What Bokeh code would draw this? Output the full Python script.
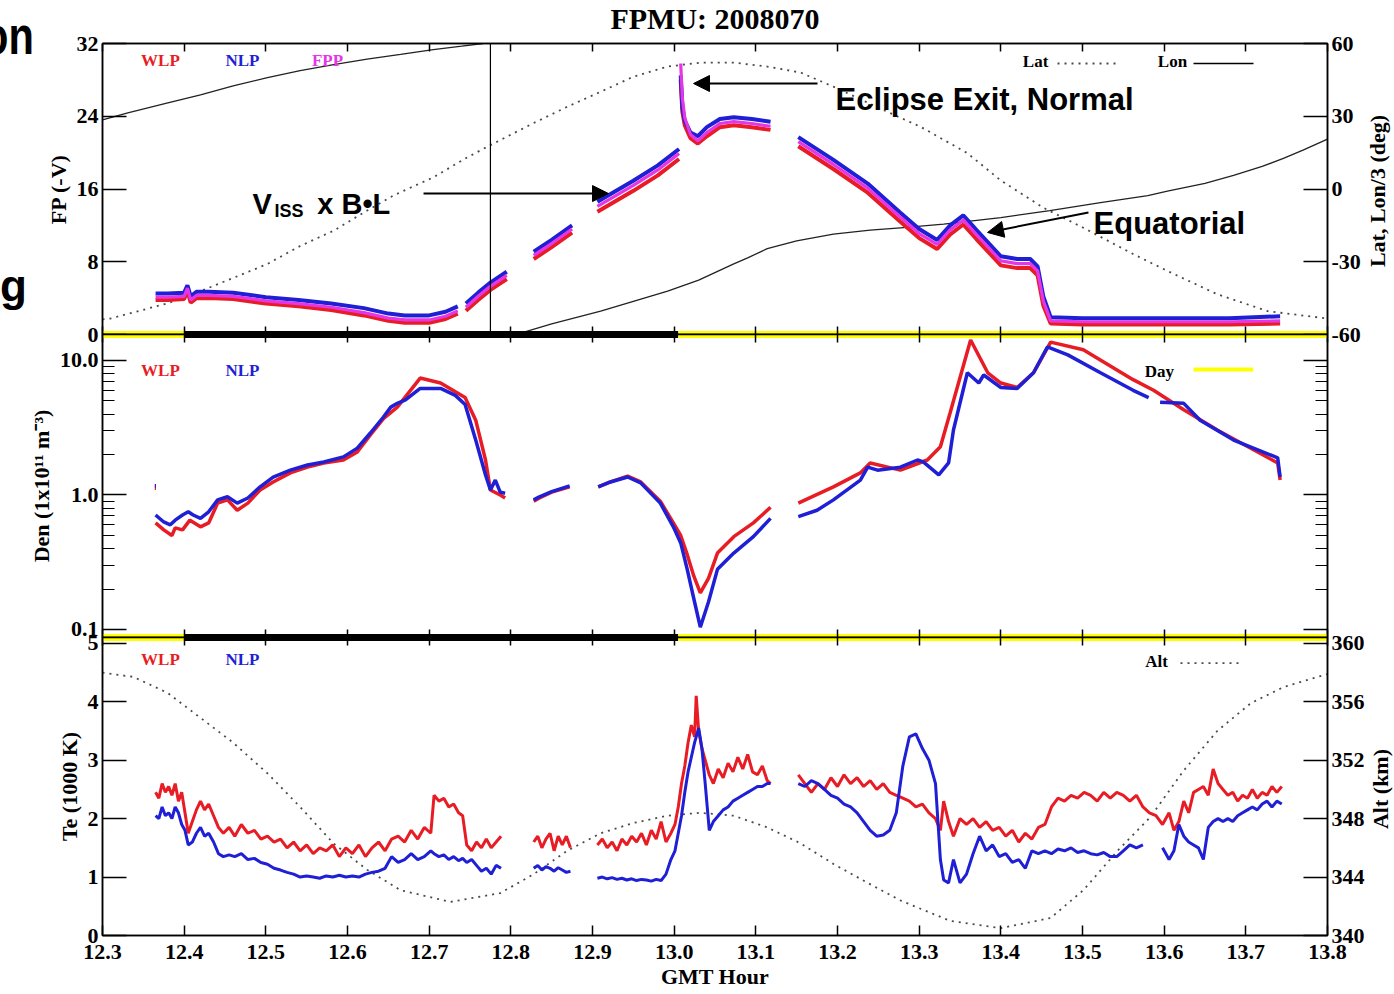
import math
from bokeh.plotting import figure
from bokeh.models import (Range1d, LinearAxis, LogAxis, FixedTicker, PrintfTickFormatter,
                          Label, Arrow, NormalHead, Span, CustomLabelingPolicy, Div)
from bokeh.layouts import column
from bokeh.embed import file_html
from bokeh.resources import INLINE

NAN = float("nan")

# ---------------------------------------------------------------- data
TITLE = "FPMU: 2008070"
X_START, X_END = 12.3, 13.8
XTICKS = [12.3, 12.4, 12.5, 12.6, 12.7, 12.8, 12.9, 13.0, 13.1, 13.2, 13.3, 13.4, 13.5, 13.6, 13.7, 13.8]
FP_TICKS = [0, 8, 16, 24, 32]
DEG_TICKS = [-60, -30, 0, 30, 60]
DEN_TICKS = [0.1, 1, 10]
DEN_MINOR = [0.2, 0.3, 0.4, 0.5, 0.6, 0.7, 0.8, 0.9, 2, 3, 4, 5, 6, 7, 8, 9]
TE_TICKS = [0, 1, 2, 3, 4, 5]
ALT_TICKS = [340, 344, 348, 352, 356, 360]

# day / eclipse indicator
DAY_START = [12.3, 12.4, 13.005]
DAY_END = [12.4, 13.005, 13.8]
DAY_FLAG = [1, 0, 1]
ORBIT_MARK = 12.775

# floating potential (-V), segments
FP_T = [
    [12.365, 12.38, 12.40, 12.404, 12.408, 12.415, 12.43, 12.46, 12.50, 12.54, 12.58, 12.62, 12.65, 12.67, 12.70, 12.72, 12.735],
    [12.745, 12.76, 12.775, 12.795],
    [12.828, 12.85, 12.875],
    [12.906, 12.95, 12.98, 13.006],
    [13.008, 13.010, 13.013, 13.020, 13.029, 13.04, 13.056, 13.073, 13.095, 13.118],
    [13.152, 13.195, 13.237, 13.277, 13.30, 13.322, 13.338, 13.354, 13.37, 13.40,
     13.42, 13.436, 13.445, 13.452, 13.461, 13.50, 13.56, 13.62, 13.68, 13.742],
]
FP_NLP = [
    [4.5, 4.5, 4.6, 5.4, 4.2, 4.7, 4.7, 4.6, 4.1, 3.8, 3.4, 2.9, 2.3, 2.1, 2.1, 2.5, 3.1],
    [3.4, 4.6, 5.7, 6.9],
    [9.1, 10.4, 12.0],
    [14.6, 16.9, 18.6, 20.4],
    [28.5, 25.0, 23.5, 22.2, 21.8, 22.8, 23.7, 23.9, 23.7, 23.4],
    [21.7, 19.2, 16.6, 13.4, 11.6, 10.4, 12.0, 13.1, 11.5, 8.6,
     8.3, 8.3, 7.5, 4.2, 1.9, 1.8, 1.8, 1.8, 1.8, 2.0],
]
FP_FPP = [
    [4.1, 4.1, 4.2, 5.1, 3.8, 4.3, 4.3, 4.2, 3.7, 3.4, 3.0, 2.4, 1.8, 1.6, 1.6, 2.0, 2.6],
    [3.0, 4.2, 5.3, 6.5],
    [8.7, 10.0, 11.6],
    [14.1, 16.4, 18.1, 19.9],
    [29.8, 26.0, 23.8, 22.0, 21.3, 22.2, 23.2, 23.4, 23.2, 22.9],
    [21.2, 18.7, 16.1, 12.9, 11.1, 9.9, 11.5, 12.6, 11.0, 8.1,
     7.8, 7.8, 7.0, 3.7, 1.5, 1.4, 1.4, 1.4, 1.4, 1.5],
]
FP_WLP = [
    [3.8, 3.8, 3.9, 4.8, 3.5, 4.0, 4.0, 3.9, 3.4, 3.1, 2.7, 2.1, 1.5, 1.3, 1.3, 1.7, 2.3],
    [2.6, 3.8, 4.9, 6.1],
    [8.3, 9.6, 11.2],
    [13.5, 15.8, 17.5, 19.3],
    [28.0, 24.5, 23.0, 21.6, 21.0, 21.8, 22.8, 23.0, 22.8, 22.5],
    [20.7, 18.2, 15.6, 12.4, 10.6, 9.4, 11.0, 12.1, 10.5, 7.6,
     7.3, 7.3, 6.5, 3.2, 1.2, 1.1, 1.1, 1.1, 1.1, 1.2],
]

# latitude (deg) and longitude/3 (deg)
LAT_T = [12.300, 12.310, 12.380, 12.420, 12.460, 12.502, 12.542, 12.583, 12.624, 12.656,
         12.705, 12.747, 12.775, 12.828, 12.869, 12.910, 12.950, 12.992, 13.032, 13.073,
         13.114, 13.155, 13.195, 13.256, 13.302, 13.359, 13.400, 13.452, 13.501, 13.562,
         13.604, 13.665, 13.727, 13.800]
LAT_V = [-53.8, -53.4, -47.1, -42.1, -36.7, -30.9, -23.5, -17.2, -8.9, -2.7,
         4.8, 13.1, 18.1, 27.2, 33.9, 40.1, 46.3, 50.5, 52.1, 52.1,
         50.5, 48.0, 42.2, 32.6, 25.6, 14.8, 3.5, -7.7, -16.0, -26.8,
         -33.8, -43.4, -50.4, -53.4]
LON_T = [[12.300, 12.331, 12.380, 12.420, 12.460, 12.502, 12.542, 12.583, 12.624, 12.665,
          12.705, 12.740, 12.766],
         [12.800, 12.812, 12.850, 12.910, 12.950, 12.992, 13.030, 13.073, 13.090, 13.114,
          13.150, 13.195, 13.240, 13.277, 13.330, 13.400, 13.460, 13.522, 13.580, 13.604,
          13.650, 13.685, 13.720, 13.746, 13.770, 13.800]]
LON_V = [[28.5, 31.4, 35.5, 38.8, 42.5, 45.9, 48.8, 51.3, 53.6, 55.5,
          57.5, 58.9, 60.0],
         [-60.0, -59.4, -55.6, -50.4, -46.3, -42.1, -37.6, -30.9, -28.4, -24.6,
          -21.4, -18.6, -17.0, -16.0, -14.5, -11.8, -8.9, -5.6, -2.7, -0.9,
          2.3, 5.6, 9.3, 12.6, 16.0, 20.6]]

# density (1e11 m^-3), segments
DEN_NLP_T = [
    [12.3640, 12.3655],
    [12.365, 12.375, 12.383, 12.389, 12.398, 12.405, 12.411, 12.420, 12.430, 12.441,
     12.453, 12.465, 12.478, 12.493, 12.509, 12.530, 12.551, 12.571, 12.595, 12.612,
     12.628, 12.644, 12.653, 12.661, 12.671, 12.689, 12.714, 12.732, 12.744, 12.757,
     12.769, 12.775, 12.781, 12.787, 12.793],
    [12.828, 12.835, 12.850, 12.872],
    [12.907, 12.922, 12.943, 12.959, 12.983, 12.999, 13.008, 13.016, 13.024, 13.032,
     13.042, 13.053, 13.073, 13.097, 13.118],
    [13.152, 13.175, 13.195, 13.228, 13.237, 13.249, 13.277, 13.298, 13.305, 13.324,
     13.336, 13.342, 13.359, 13.373, 13.379, 13.400, 13.420, 13.440, 13.457, 13.482,
     13.522, 13.562, 13.581],
    [13.595, 13.624, 13.644, 13.685, 13.739, 13.742],
]
DEN_NLP_V = [
    [1.17, 1.17],
    [0.71, 0.63, 0.60, 0.65, 0.71, 0.75, 0.71, 0.67, 0.75, 0.92,
     0.97, 0.87, 0.95, 1.15, 1.36, 1.53, 1.67, 1.76, 1.92, 2.23,
     2.89, 3.8, 4.5, 4.8, 5.1, 6.2, 6.2, 5.5, 4.7, 2.56,
     1.41, 1.09, 1.29, 1.05, 1.03],
    [0.92, 0.97, 1.06, 1.17],
    [1.15, 1.25, 1.36, 1.23, 0.87, 0.58, 0.44, 0.28, 0.17, 0.104,
     0.16, 0.28, 0.37, 0.49, 0.67],
    [0.69, 0.77, 0.92, 1.29, 1.61, 1.53, 1.61, 1.82, 1.76, 1.41,
     1.73, 3.04, 8.1, 6.8, 7.8, 6.3, 6.2, 8.1, 12.6, 11.0,
     8.1, 6.0, 5.3],
    [4.9, 4.8, 3.6, 2.56, 1.89, 1.36],
]
DEN_WLP_T = [
    [12.3640, 12.3655],
    [12.365, 12.375, 12.385, 12.389, 12.398, 12.407, 12.420, 12.430, 12.441, 12.453,
     12.465, 12.478, 12.493, 12.509, 12.530, 12.551, 12.571, 12.595, 12.612, 12.628,
     12.644, 12.661, 12.689, 12.714, 12.744, 12.757, 12.769, 12.775, 12.787, 12.793],
    [12.828, 12.835, 12.850, 12.872],
    [12.907, 12.922, 12.943, 12.959, 12.983, 12.999, 13.008, 13.016, 13.024, 13.032,
     13.042, 13.053, 13.073, 13.097, 13.118],
    [13.152, 13.195, 13.228, 13.240, 13.277, 13.310, 13.326, 13.338, 13.363, 13.384,
     13.400, 13.420, 13.440, 13.461, 13.501, 13.562, 13.587, 13.624, 13.665, 13.739,
     13.742],
]
DEN_WLP_V = [
    [1.12, 1.12],
    [0.62, 0.55, 0.50, 0.57, 0.55, 0.65, 0.58, 0.62, 0.87, 0.92,
     0.77, 0.87, 1.09, 1.25, 1.46, 1.61, 1.73, 1.82, 2.09, 2.8,
     3.7, 4.5, 7.4, 6.8, 5.3, 3.6, 1.82, 1.09, 1.0, 0.95],
    [0.90, 0.95, 1.05, 1.15],
    [1.15, 1.25, 1.38, 1.25, 0.90, 0.62, 0.50, 0.36, 0.25, 0.187,
     0.24, 0.37, 0.49, 0.62, 0.81],
    [0.87, 1.15, 1.46, 1.73, 1.53, 1.82, 2.28, 4.1, 14.2, 8.1,
     6.8, 6.3, 8.1, 13.7, 12.0, 7.2, 6.0, 4.3, 3.04, 1.73,
     1.29],
]

# electron temperature (1000 K), segments share time stamps (NaN = no data)
TE_T = [
    [12.365, 12.369, 12.373, 12.377, 12.381, 12.385, 12.389, 12.393, 12.397, 12.401,
     12.405, 12.410, 12.415, 12.420, 12.425, 12.430, 12.436, 12.442, 12.448, 12.455,
     12.462, 12.470, 12.478, 12.486, 12.494, 12.502, 12.510, 12.518, 12.526, 12.534,
     12.542, 12.550, 12.558, 12.566, 12.574, 12.582, 12.590, 12.598, 12.606, 12.614,
     12.622, 12.630, 12.638, 12.646, 12.654, 12.662, 12.670, 12.678, 12.686, 12.694,
     12.702, 12.706, 12.712, 12.718, 12.724, 12.730, 12.736, 12.741, 12.746, 12.752,
     12.758, 12.764, 12.770, 12.776, 12.782, 12.788],
    [12.828, 12.833, 12.838, 12.843, 12.848, 12.853, 12.858, 12.863, 12.868, 12.873],
    [12.906, 12.912, 12.918, 12.924, 12.930, 12.936, 12.942, 12.948, 12.954, 12.960,
     12.966, 12.972, 12.978, 12.984, 12.990, 12.996, 13.001, 13.005, 13.009, 13.013,
     13.017, 13.021, 13.025, 13.027, 13.030, 13.034, 13.038, 13.043, 13.048, 13.054,
     13.060, 13.066, 13.072, 13.078, 13.084, 13.090, 13.096, 13.102, 13.108, 13.114,
     13.118],
    [13.152, 13.160, 13.168, 13.176, 13.184, 13.192, 13.200, 13.208, 13.216, 13.224,
     13.232, 13.240, 13.248, 13.256, 13.264, 13.272, 13.280, 13.288, 13.296, 13.304,
     13.312, 13.320, 13.326, 13.330, 13.336, 13.342, 13.350, 13.358, 13.366, 13.374,
     13.382, 13.390, 13.398, 13.406, 13.414, 13.422, 13.430, 13.438, 13.446, 13.454,
     13.462, 13.470, 13.478, 13.486, 13.494, 13.502, 13.510, 13.518, 13.526, 13.534,
     13.542, 13.550, 13.558, 13.566, 13.574, 13.582, 13.590, 13.598, 13.606, 13.612,
     13.618, 13.624, 13.630, 13.636, 13.642, 13.648, 13.654, 13.660, 13.666, 13.672,
     13.678, 13.684, 13.690, 13.696, 13.702, 13.708, 13.714, 13.720, 13.726, 13.732,
     13.738, 13.744],
]
TE_WLP = [
    [2.45, 2.35, 2.60, 2.45, 2.55, 2.40, 2.60, 2.30, 2.45, 2.10,
     1.75, 1.95, 2.15, 2.30, 2.15, 2.25, 2.05, 1.85, 1.75, 1.85,
     1.70, 1.90, 1.75, 1.80, 1.65, 1.70, 1.60, 1.65, 1.50, 1.60,
     1.45, 1.55, 1.40, 1.50, 1.45, 1.55, 1.35, 1.50, 1.40, 1.55,
     1.35, 1.50, 1.60, 1.45, 1.65, 1.70, 1.60, 1.80, 1.65, 1.85,
     1.75, 2.40, 2.30, 2.35, 2.20, 2.25, 2.10, 2.05, 1.55, 1.45,
     1.60, 1.50, 1.65, 1.50, 1.60, 1.70],
    [1.60, 1.70, 1.50, 1.65, 1.75, 1.45, 1.70, 1.55, 1.70, 1.50],
    [1.55, 1.65, 1.50, 1.60, 1.45, 1.65, 1.55, 1.70, 1.60, 1.75,
     1.55, 1.80, 1.65, 1.95, 1.60, 1.75, 1.90, 2.20, 2.60, 2.90,
     3.30, 3.60, 3.40, 4.10, 3.50, 3.20, 3.00, 2.75, 2.60, 2.85,
     2.70, 2.95, 2.80, 3.05, 2.85, 3.10, 2.80, 2.75, 2.90, 2.65,
     2.60],
    [2.75, 2.60, 2.45, 2.60, 2.50, 2.70, 2.55, 2.75, 2.60, 2.70,
     2.55, 2.65, 2.50, 2.60, 2.45, 2.40, 2.35, 2.30, 2.20, 2.25,
     2.10, 2.00, 1.80, 2.30, 1.95, 1.70, 2.00, 1.90, 2.00, 1.85,
     1.95, 1.80, 1.85, 1.70, 1.80, 1.60, 1.75, 1.65, 1.85, 1.90,
     2.20, 2.35, 2.30, 2.40, 2.35, 2.45, 2.40, 2.30, 2.45, 2.35,
     2.45, 2.40, 2.30, 2.40, 2.20, 2.10, 2.05, 1.90, 2.10, 1.80,
     1.95, 2.30, 2.10, 2.45, 2.50, 2.55, 2.40, 2.85, 2.60, 2.50,
     2.40, 2.45, 2.30, 2.40, 2.35, 2.50, 2.35, 2.45, 2.40, 2.55,
     2.45, 2.55],
]
TE_NLP = [
    [2.05, 2.00, 2.20, 2.05, 2.10, 2.00, 2.20, 2.10, 1.90, 1.80,
     1.55, 1.60, 1.75, 1.85, 1.70, 1.75, 1.60, 1.40, 1.35, 1.38,
     1.35, 1.40, 1.30, 1.32, 1.25, 1.22, 1.15, 1.12, 1.08, 1.05,
     1.00, 1.02, 1.00, 0.98, 1.02, 1.00, 1.03, 1.00, 1.02, 1.00,
     1.05, 1.08, 1.10, 1.15, 1.35, 1.25, 1.30, 1.40, 1.30, 1.35,
     1.45, 1.40, 1.35, 1.38, 1.30, 1.35, 1.28, 1.32, 1.25, 1.30,
     1.20, 1.10, 1.15, 1.05, 1.20, 1.15],
    [1.15, 1.20, 1.12, 1.18, 1.15, 1.10, 1.16, 1.12, 1.08, 1.10],
    [0.98, 1.00, 0.97, 0.99, 0.96, 0.98, 0.95, 0.97, 0.94, 0.96,
     0.95, 0.93, 0.96, 0.94, 1.05, 1.30, 1.45, 1.75, 2.05, 2.45,
     2.80, 3.05, 3.30, 3.40, 3.55, 3.20, 2.60, 1.80, 1.95, 2.05,
     2.15, 2.20, 2.30, 2.35, 2.40, 2.45, 2.50, 2.55, 2.55, 2.60,
     2.60],
    [2.60, 2.55, 2.65, 2.60, 2.50, 2.40, 2.35, 2.25, 2.20, 2.10,
     1.95, 1.80, 1.70, 1.72, 1.80, 2.10, 2.90, 3.40, 3.45, 3.20,
     3.00, 2.60, 1.30, 0.95, 0.90, 1.30, 0.90, 1.05, 1.40, 1.70,
     1.45, 1.55, 1.35, 1.40, 1.25, 1.30, 1.15, 1.45, 1.40, 1.45,
     1.40, 1.48, 1.45, 1.50, 1.42, 1.45, 1.40, 1.38, 1.42, 1.35,
     1.35, 1.45, 1.55, 1.50, 1.55, NAN, NAN, 1.50, 1.30, 1.45,
     1.90, 1.70, 1.60, 1.55, 1.50, 1.30, 1.85, 1.95, 2.00, 1.95,
     2.00, 1.95, 2.05, 2.10, 2.15, 2.20, 2.15, 2.25, 2.30, 2.20,
     2.30, 2.25],
]

# altitude (km)
ALT_T = [12.300, 12.338, 12.380, 12.420, 12.460, 12.502, 12.542, 12.583, 12.624, 12.665,
         12.726, 12.787, 12.828, 12.869, 12.910, 12.950, 12.992, 13.032, 13.073, 13.114,
         13.155, 13.195, 13.237, 13.277, 13.338, 13.400, 13.461, 13.501, 13.543, 13.583,
         13.624, 13.665, 13.706, 13.746, 13.800]
ALT_V = [358.0, 357.7, 356.6, 354.9, 353.2, 351.1, 348.8, 346.3, 344.5, 343.1,
         342.3, 342.9, 344.2, 345.8, 347.0, 347.7, 348.2, 348.4, 348.2, 347.4,
         346.3, 344.9, 343.6, 342.4, 341.0, 340.5, 341.2, 343.1, 345.8, 348.1,
         351.3, 354.0, 355.9, 357.0, 357.9]

# ---------------------------------------------------------------- style
SERIF = "Liberation Serif"
SANS = "Liberation Sans"
RED = "#e81c24"
BLUE = "#1f1fd6"
MAG = "#e436e4"
YEL = "#ffff00"
DOT = "#4a4a4a"
W = 1394
LEFT, RIGHT = 102, 67

x_range = Range1d(X_START, X_END)


def split_nan(ts, vs):
    """Break segments wherever a value is missing."""
    out_t, out_v = [], []
    for t_seg, v_seg in zip(ts, vs):
        ct, cv = [], []
        for t, v in zip(t_seg, v_seg):
            if v != v:
                if ct:
                    out_t.append(ct)
                    out_v.append(cv)
                ct, cv = [], []
            else:
                ct.append(t)
                cv.append(v)
        if ct:
            out_t.append(ct)
            out_v.append(cv)
    return out_t, out_v


def make_fig(height, y_range, y_type, top, bottom):
    p = figure(width=W, height=height, x_range=x_range, y_range=y_range, y_axis_type=y_type,
               output_backend="svg", toolbar_location=None, tools="",
               x_axis_location=None, y_axis_location=None,
               min_border_left=LEFT, min_border_right=RIGHT,
               min_border_top=top, min_border_bottom=bottom)
    p.outline_line_color = "black"
    p.outline_line_width = 1.5
    p.background_fill_color = "white"
    p.border_fill_color = None
    for g in p.grid:
        g.visible = False
    return p


NO_LABELS = CustomLabelingPolicy(code="return []")


def style_axis(ax, tick_in, minor_in=0, labels=True, label_size="22px", standoff=4):
    ax.axis_line_color = "black"
    ax.axis_line_width = 1.5
    ax.major_tick_in = tick_in
    ax.major_tick_out = 0
    ax.minor_tick_in = minor_in
    ax.minor_tick_out = 0
    ax.major_tick_line_width = 1.5
    ax.minor_tick_line_width = 1.2
    ax.major_tick_line_color = "black"
    ax.minor_tick_line_color = "black"
    ax.major_label_text_font = SERIF
    ax.major_label_text_font_style = "bold"
    ax.major_label_text_color = "black"
    if labels:
        ax.major_label_text_font_size = label_size
        ax.major_label_standoff = standoff
    else:
        ax.major_label_text_font_size = "1px"
        ax.major_label_standoff = 0
        ax.major_label_policy = NO_LABELS
    ax.axis_label_text_font = SERIF
    ax.axis_label_text_font_style = "bold"
    ax.axis_label_text_font_size = "22px"
    ax.axis_label_text_color = "black"
    ax.axis_label_standoff = 3
    return ax


def x_edges(p, bottom_labels=False):
    top = LinearAxis(ticker=FixedTicker(ticks=XTICKS))
    style_axis(top, 8, labels=False)
    p.add_layout(top, "above")
    bot = LinearAxis(ticker=FixedTicker(ticks=XTICKS), formatter=PrintfTickFormatter(format="%.1f"))
    if bottom_labels:
        style_axis(bot, 10, labels=True, standoff=9)
        bot.axis_label = "GMT Hour"
        bot.axis_label_standoff = 2
    else:
        style_axis(bot, 8, labels=False)
    p.add_layout(bot, "below")


def day_bar(p, y):
    colors = [YEL if f else "black" for f in DAY_FLAG]
    p.segment(x0=DAY_START, y0=[y] * len(DAY_START), x1=DAY_END, y1=[y] * len(DAY_START),
              line_color=colors, line_width=7)


def txt(p, x, y, text, size, color="black", font=SERIF, align="center", baseline="middle"):
    p.add_layout(Label(x=x, y=y, text=text, text_font=font, text_font_style="bold",
                       text_font_size=f"{size}px", text_color=color, text_align=align,
                       text_baseline=baseline))


def sample(p, x0, x1, y, color, width, dash="solid"):
    p.add_layout(Arrow(start=None, end=None, x_start=x0, y_start=y, x_end=x1, y_end=y,
                       line_color=color, line_width=width, line_dash=dash))


def pointer(p, x0, y0, x1, y1):
    p.add_layout(Arrow(end=NormalHead(size=16, fill_color="black", line_color="black"),
                       x_start=x0, y_start=y0, x_end=x1, y_end=y1,
                       line_color="black", line_width=2))


# ---------------------------------------------------------------- panel 1 : FP
FP_RANGE = Range1d(0, 32)
p1 = make_fig(346, FP_RANGE, "linear", 43, 12)
p1.extra_y_ranges = {"deg": Range1d(-60, 60)}
ax = LinearAxis(ticker=FixedTicker(ticks=FP_TICKS), axis_label="FP (-V)")
style_axis(ax, 24)
p1.add_layout(ax, "left")
ax = LinearAxis(y_range_name="deg", ticker=FixedTicker(ticks=DEG_TICKS),
                formatter=PrintfTickFormatter(format="%d"))
style_axis(ax, 24)
p1.add_layout(ax, "right")
x_edges(p1)

p1.line(LAT_T, LAT_V, y_range_name="deg", line_color=DOT, line_width=1.8, line_dash="2 5")
p1.multi_line(LON_T, LON_V, y_range_name="deg", line_color="#222222", line_width=1.3)
p1.add_layout(Span(location=ORBIT_MARK, dimension="height", line_color="black", line_width=1.2))
p1.multi_line(FP_T, FP_WLP, line_color=RED, line_width=4)
p1.multi_line(FP_T, FP_NLP, line_color=BLUE, line_width=4)
p1.multi_line(FP_T, FP_FPP, line_color=MAG, line_width=3.2)
day_bar(p1, FP_RANGE.start)

txt(p1, 12.371, 30.1, "WLP", 17, RED)
txt(p1, 12.4714, 30.1, "NLP", 17, BLUE)
txt(p1, 12.5755, 30.1, "FPP", 17, MAG)
txt(p1, 13.4425, 30.0, "Lat", 17)
sample(p1, 13.4694, 13.5465, 29.8, DOT, 1.8, "2 5")
txt(p1, 13.6102, 30.0, "Lon", 17)
sample(p1, 13.6359, 13.7094, 29.8, "black", 1.5)

txt(p1, 13.1976, 25.84, "Eclipse Exit, Normal", 31, font=SANS, align="left", baseline="alphabetic")
pointer(p1, 13.1755, 27.6, 13.0237, 27.6)
txt(p1, 12.4837, 14.40, "V", 29, font=SANS, align="left", baseline="alphabetic")
txt(p1, 12.5106, 13.53, "ISS", 18, font=SANS, align="left", baseline="alphabetic")
txt(p1, 12.5630, 14.40, "x B\u2022L", 29, font=SANS, align="left", baseline="alphabetic")
pointer(p1, 12.6931, 15.5, 12.9196, 15.5)
txt(p1, 13.5135, 12.21, "Equatorial", 31, font=SANS, align="left", baseline="alphabetic")
pointer(p1, 13.5073, 13.42, 13.3837, 11.22)

# ---------------------------------------------------------------- panel 2 : density
DEN_RANGE = Range1d(0.0872, 15.6)
p2 = make_fig(327, DEN_RANGE, "log", 12, 12)
p2.margin = (-24, 0, 0, 0)
ax = LogAxis(ticker=FixedTicker(ticks=DEN_TICKS, minor_ticks=DEN_MINOR),
             formatter=PrintfTickFormatter(format="%.1f"),
             axis_label="Den (1x10\u00b9\u00b9 m\u207b\u00b3)")
style_axis(ax, 24, minor_in=12)
p2.add_layout(ax, "left")
ax = LogAxis(ticker=FixedTicker(ticks=DEN_TICKS, minor_ticks=DEN_MINOR))
style_axis(ax, 24, minor_in=12, labels=False)
p2.add_layout(ax, "right")
x_edges(p2)

p2.multi_line(DEN_WLP_T, DEN_WLP_V, line_color=RED, line_width=3.5)
p2.multi_line(DEN_NLP_T, DEN_NLP_V, line_color=BLUE, line_width=3.5)
day_bar(p2, DEN_RANGE.start)
day_bar(p2, DEN_RANGE.end)

txt(p2, 12.371, 8.43, "WLP", 17, RED)
txt(p2, 12.4714, 8.43, "NLP", 17, BLUE)
txt(p2, 13.594, 8.3, "Day", 17)
sample(p2, 13.636, 13.709, 8.57, YEL, 4)

# ---------------------------------------------------------------- panel 3 : Te
TE_RANGE = Range1d(0, 5.1)
p3 = make_fig(369, TE_RANGE, "linear", 12, 59)
p3.margin = (-24, 0, 0, 0)
p3.extra_y_ranges = {"alt": Range1d(340, 360.4)}
ax = LinearAxis(ticker=FixedTicker(ticks=TE_TICKS), axis_label="Te (1000 K)")
style_axis(ax, 24)
p3.add_layout(ax, "left")
ax = LinearAxis(y_range_name="alt", ticker=FixedTicker(ticks=ALT_TICKS))
style_axis(ax, 24)
p3.add_layout(ax, "right")
x_edges(p3, bottom_labels=True)

te_w_t, te_w_v = split_nan(TE_T, TE_WLP)
te_n_t, te_n_v = split_nan(TE_T, TE_NLP)
p3.line(ALT_T, ALT_V, y_range_name="alt", line_color=DOT, line_width=1.8, line_dash="2 5")
p3.multi_line(te_w_t, te_w_v, line_color=RED, line_width=3)
p3.multi_line(te_n_t, te_n_v, line_color=BLUE, line_width=3)
day_bar(p3, TE_RANGE.end)

txt(p3, 12.371, 4.73, "WLP", 17, RED)
txt(p3, 12.4714, 4.73, "NLP", 17, BLUE)
txt(p3, 13.5906, 4.69, "Alt", 17)
sample(p3, 13.620, 13.693, 4.66, DOT, 1.8, "2 5")

# ---------------------------------------------------------------- texts outside the frames
RIGHT_LABELS = [("Lat, Lon/3 (deg)", 1378, 191), ("Alt (km)", 1381, 789)]
spans = [
    # title
    f'<span style="position:absolute;left:715px;top:4px;transform:translateX(-50%);white-space:nowrap;'
    f"font-family:'{SERIF}';font-weight:bold;font-size:30px;line-height:30px;color:#000;\">{TITLE}</span>",
    # fragments of slide text cut by the left edge
    f'<span style="position:absolute;left:-17px;top:8px;transform:scaleX(0.77);transform-origin:0 0;'
    f"white-space:nowrap;font-family:'{SANS}';font-weight:bold;font-size:54px;line-height:54px;"
    f'color:#000;">on</span>',
    f'<span style="position:absolute;left:0px;top:264px;white-space:nowrap;'
    f"font-family:'{SANS}';font-weight:bold;font-size:44px;line-height:44px;color:#000;\">g</span>",
]
for text, cx, cy in RIGHT_LABELS:
    spans.append(
        f'<span style="position:absolute;left:{cx}px;top:{cy}px;white-space:nowrap;'
        f"transform:translate(-50%,-50%) rotate(-90deg);font-family:'{SERIF}';font-weight:bold;"
        f'font-size:22px;line-height:22px;color:#000;">{text}</span>')
overlay_html = ('<div style="position:relative;width:1394px;height:994px;overflow:hidden;'
                'pointer-events:none;">' + "".join(spans) + "</div>")
overlay = Div(text=overlay_html, width=W, height=994, margin=(-994, 0, 0, 0))

layout = column(p1, p2, p3, overlay, spacing=0)
open("out.html", "w").write(file_html(layout, INLINE))
